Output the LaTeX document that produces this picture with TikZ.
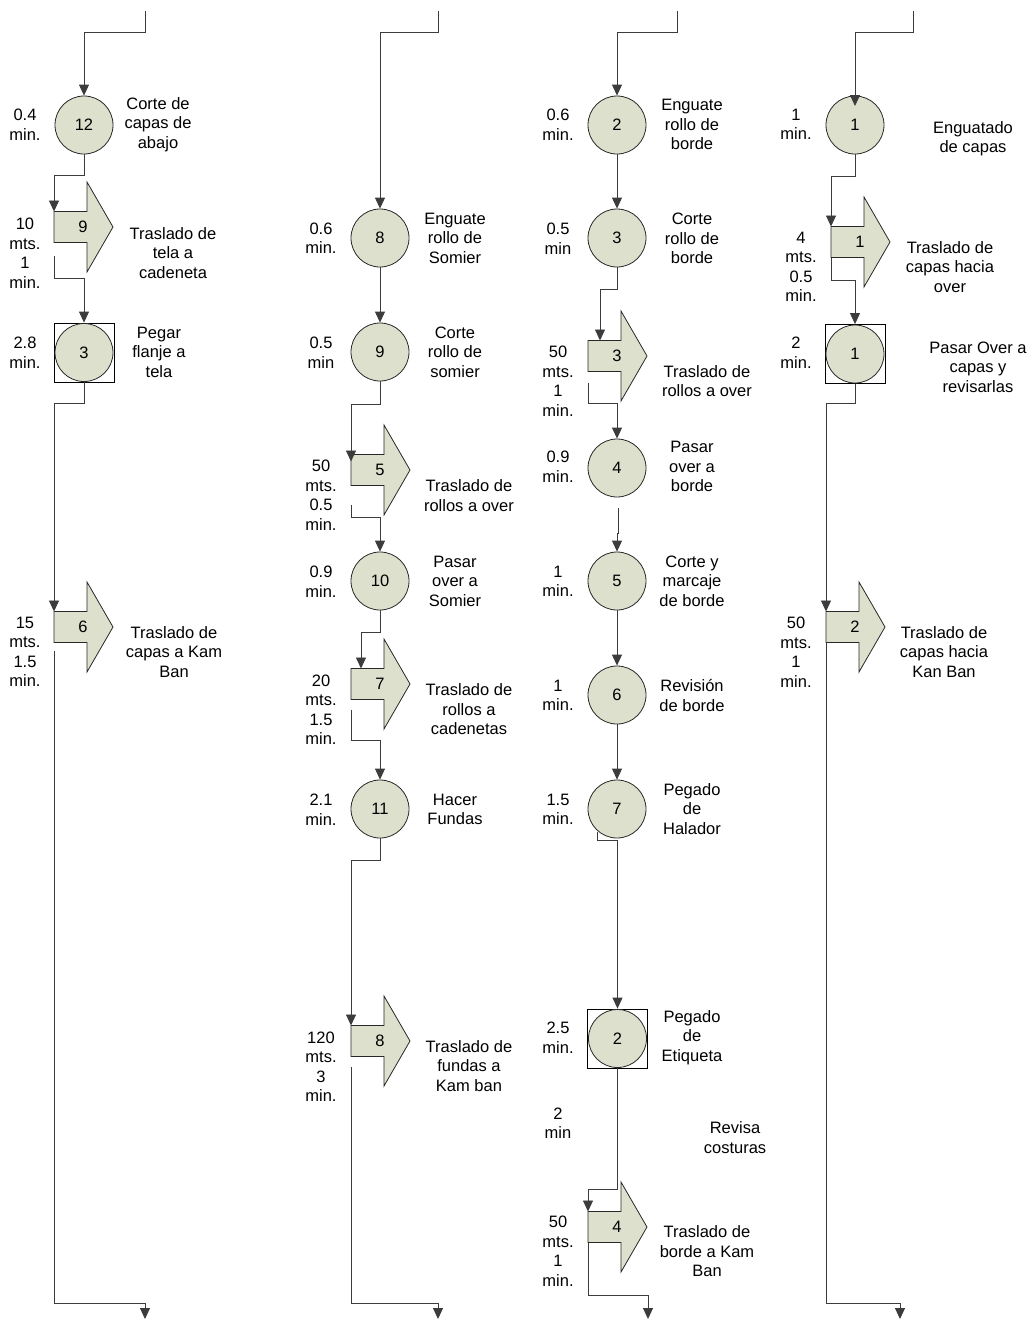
\documentclass[tikz,border=0pt]{standalone}
\usepackage{fontspec}
\setmainfont{Liberation Sans}
\usetikzlibrary{arrows.meta,calc}
\definecolor{opfill}{RGB}{221,224,204}
\definecolor{flowline}{RGB}{60,60,60}
\definecolor{shapeline}{RGB}{40,40,40}

% transport arrow: name, left x, centre y, number
\newcommand\transport[4]{%
  \draw[shapeline, fill=opfill, line width=0.8pt]
    (#2,#3-15.5) -- (#2+33,#3-15.5) -- (#2+33,#3-45) -- (#2+59,#3)
    -- (#2+33,#3+45) -- (#2+33,#3+15.5) -- (#2,#3+15.5) -- cycle;
  \coordinate (#1nw) at (#2,#3-15.5);
  \coordinate (#1sw) at (#2,#3+15.5);
  \node[txt] (#1) at (#2+29,#3) {#4};
}

\begin{document}
\begin{tikzpicture}[x=1pt,y=-1pt,
  font=\fontsize{16.5}{19.5}\selectfont,
  txt/.style={align=center, inner sep=0pt},
  flow/.style={draw=flowline, line width=0.9pt},
  flowarrow/.style={flow, -{Triangle[length=11pt,width=10pt]}},
  opcircle/.style={circle, draw=shapeline, fill=opfill, minimum size=58pt,
    inner sep=0pt, line width=0.8pt},
  combo/.style={rectangle, draw=black, minimum width=60pt, minimum height=59pt,
    inner sep=0pt, line width=0.8pt}
]
\useasboundingbox (0,0) rectangle (1031,1320);

% ---------------- column 1 ----------------
\node[opcircle] (c12) at (84,125) {12};
\node[txt] (t12) at (25,124.5) {0.4\\min.};
\node[txt] (d12) at (158,124.5) {Corte de\\capas de\\abajo};

\transport{a9}{54}{227}{9}
\node[txt] (t9) at (25,253) {10\\mts.\\1\\min.};
\node[txt] (d9) at (173,253) {Traslado de\\tela a\\cadeneta};

\node[combo] (s3) at (84,352.5) {};
\node[opcircle] (s3c) at (84,352.5) {3};
\node[txt] (t3) at (25,352.5) {2.8\\min.};
\node[txt] (d3) at (159,352) {Pegar\\flanje a\\tela};

\transport{a6}{54}{627}{6}
\node[txt] (t6) at (25,652) {15\\mts.\\1.5\\min.};
\node[txt] (d6) at (174,652) {Traslado de\\capas a Kam\\Ban};

\coordinate (in1) at (145,11);
\coordinate (out1) at (145,1319);
\draw[flowarrow] (in1) -- (145,32) -- (84,32) -- (c12.north);
\draw[flowarrow] (c12.south) -- (84,175) -- (54,175) -- (a9nw);
\draw[flowarrow] ($(a9sw)+(0,13)$) -- (54,278) -- (84,278) -- (s3.north);
\draw[flowarrow] (s3.south) -- (84,403) -- (54,403) -- (a6nw);
\draw[flowarrow] ($(a6sw)+(0,8)$) -- (54,1303) -- (145,1303) -- (out1);

% ---------------- column 2 ----------------
\node[opcircle] (c8) at (380,238) {8};
\node[txt] (t8) at (321,238) {0.6\\min.};
\node[txt] (d8) at (455,238) {Enguate\\rollo de\\Somier};

\node[opcircle] (c9) at (380,352) {9};
\node[txt] (t9b) at (321,352.5) {0.5\\min};
\node[txt] (d9b) at (455,352) {Corte\\rollo de\\somier};

\transport{a5}{351}{470}{5}
\node[txt] (t5) at (321,495) {50\\mts.\\0.5\\min.};
\node[txt] (d5) at (469,495.5) {Traslado de\\rollos a over};

\node[opcircle] (c10) at (380,581) {10};
\node[txt] (t10) at (321,581.5) {0.9\\min.};
\node[txt] (d10) at (455,581) {Pasar\\over a\\Somier};

\transport{a7}{351}{684}{7}
\node[txt] (t7) at (321,709.5) {20\\mts.\\1.5\\min.};
\node[txt] (d7) at (469,709.5) {Traslado de\\rollos a\\cadenetas};

\node[opcircle] (c11) at (380,809) {11};
\node[txt] (t11) at (321,809.5) {2.1\\min.};
\node[txt] (d11) at (455,809.5) {Hacer\\Fundas};

\transport{a8}{351}{1041}{8}
\node[txt] (t8b) at (321,1066.5) {120\\mts.\\3\\min.};
\node[txt] (d8b) at (469,1066) {Traslado de\\fundas a\\Kam ban};

\coordinate (in2) at (438,11);
\coordinate (out2) at (438,1319);
\draw[flowarrow] (in2) -- (438,32) -- (380,32) -- (c8.north);
\draw[flowarrow] (c8.south) -- (c9.north);
\draw[flowarrow] (c9.south) -- (380,404) -- (351,404) -- ($(a5nw)+(0,7)$);
\draw[flowarrow] ($(a5sw)+(0,19)$) -- (351,517) -- (380,517) -- (c10.north);
\draw[flowarrow] (c10.south) -- (380,632) -- (361,632) -- (361,668.5);
\draw[flowarrow] ($(a7sw)+(0,10)$) -- (351,740) -- (380,740) -- (c11.north);
\draw[flowarrow] (c11.south) -- (380,860) -- (351,860) -- (a8nw);
\draw[flowarrow] ($(a8sw)+(0,10)$) -- (351,1303) -- (438,1303) -- (out2);

% ---------------- column 3 ----------------
\node[opcircle] (c2) at (617,125) {2};
\node[txt] (t2) at (558,124.5) {0.6\\min.};
\node[txt] (d2) at (692,124.5) {Enguate\\rollo de\\borde};

\node[opcircle] (c3) at (617,238) {3};
\node[txt] (t3b) at (558,238.5) {0.5\\min};
\node[txt] (d3b) at (692,238.5) {Corte\\rollo de\\borde};

\transport{a3}{588}{356}{3}
\node[txt] (t3c) at (558,381) {50\\mts.\\1\\min.};
\node[txt] (d3c) at (707,381) {Traslado de\\rollos a over};

\node[opcircle] (c4) at (617,468) {4};
\node[txt] (t4) at (558,466.5) {0.9\\min.};
\node[txt] (d4) at (692,466.5) {Pasar\\over a\\borde};

\node[opcircle] (c5) at (617,581) {5};
\node[txt] (t5b) at (558,581.5) {1\\min.};
\node[txt] (d5b) at (692,581) {Corte y\\marcaje\\de borde};

\node[opcircle] (c6) at (617,695) {6};
\node[txt] (t6b) at (558,695.5) {1\\min.};
\node[txt] (d6b) at (692,695.5) {Revisión\\de borde};

\node[opcircle] (c7) at (617,809) {7};
\node[txt] (t7b) at (558,809.5) {1.5\\min.};
\node[txt] (d7b) at (692,809) {Pegado\\de\\Halador};

\node[combo] (s2) at (617.5,1038.5) {};
\node[opcircle] (s2c) at (617.5,1038.5) {2};
\node[txt] (t2b) at (558,1037.5) {2.5\\min.};
\node[txt] (d2b) at (692,1037.5) {Pegado\\de\\Etiqueta};

\node[txt] (t2c) at (558,1123) {2\\min};
\node[txt] (d2c) at (735,1137.5) {Revisa\\costuras};

\transport{a4}{588}{1227}{4}
\node[txt] (t4b) at (558,1251) {50\\mts.\\1\\min.};
\node[txt] (d4b) at (707,1251.5) {Traslado de\\borde a Kam\\Ban};

\coordinate (in3) at (677,11);
\coordinate (out3) at (648,1319);
\draw[flowarrow] (in3) -- (677,32) -- (617,32) -- (c2.north);
\draw[flowarrow] (c2.south) -- (c3.north);
\draw[flowarrow] (c3.south) -- (617,289) -- (600,289) -- (600,340.5);
\draw[flowarrow] ($(a3sw)+(0,11)$) -- (588,403) -- (617,403) -- (c4.north);
\draw[flowarrow] ($(c4.south)+(1,11)$) -- (618,533) -- (617,533) -- (c5.north);
\draw[flowarrow] (c5.south) -- (c6.north);
\draw[flowarrow] (c6.south) -- (c7.north);
\draw[flowarrow] (597,832) -- (597,840) -- (617.5,840) -- (s2.north);
\draw[flowarrow] (s2.south) -- (617.5,1189) -- (588,1189) -- (a4nw);
\draw[flowarrow] (a4sw) -- (588,1295) -- (648,1295) -- (out3);

% ---------------- column 4 ----------------
\node[opcircle] (c1) at (855,125) {1};
\node[txt] (t1) at (796,124.5) {1\\min.};
\node[txt] (d1) at (973,138.5) {Enguatado\\de capas};

\transport{a1}{831}{242}{1}
\node[txt] (t1b) at (801,267) {4\\mts.\\0.5\\min.};
\node[txt] (d1b) at (950,267) {Traslado de\\capas hacia\\over};

\node[combo] (s1) at (855,354) {};
\node[opcircle] (s1c) at (855,354) {1};
\node[txt] (t1c) at (796,352.5) {2\\min.};
\node[txt] (d1c) at (978,367) {Pasar Over a\\capas y\\revisarlas};

\transport{a2}{826}{627}{2}
\node[txt] (t2d) at (796,652) {50\\mts.\\1\\min.};
\node[txt] (d2d) at (944,652) {Traslado de\\capas hacia\\Kan Ban};

\coordinate (in4) at (913,11);
\coordinate (out4) at (900,1319);
\coordinate (c1in) at (855,106);
\draw[flowarrow] (in4) -- (913,32) -- (855,32) -- (c1in);
\draw[flowarrow] (c1.south) -- (855,176) -- (831,176) -- (a1nw);
\draw[flowarrow] (a1sw) -- (831,280) -- (855,280) -- (s1.north);
\draw[flowarrow] (s1.south) -- (855,403) -- (826,403) -- (a2nw);
\draw[flowarrow] (a2sw) -- (826,1303) -- (900,1303) -- (out4);
\end{tikzpicture}
\end{document}
